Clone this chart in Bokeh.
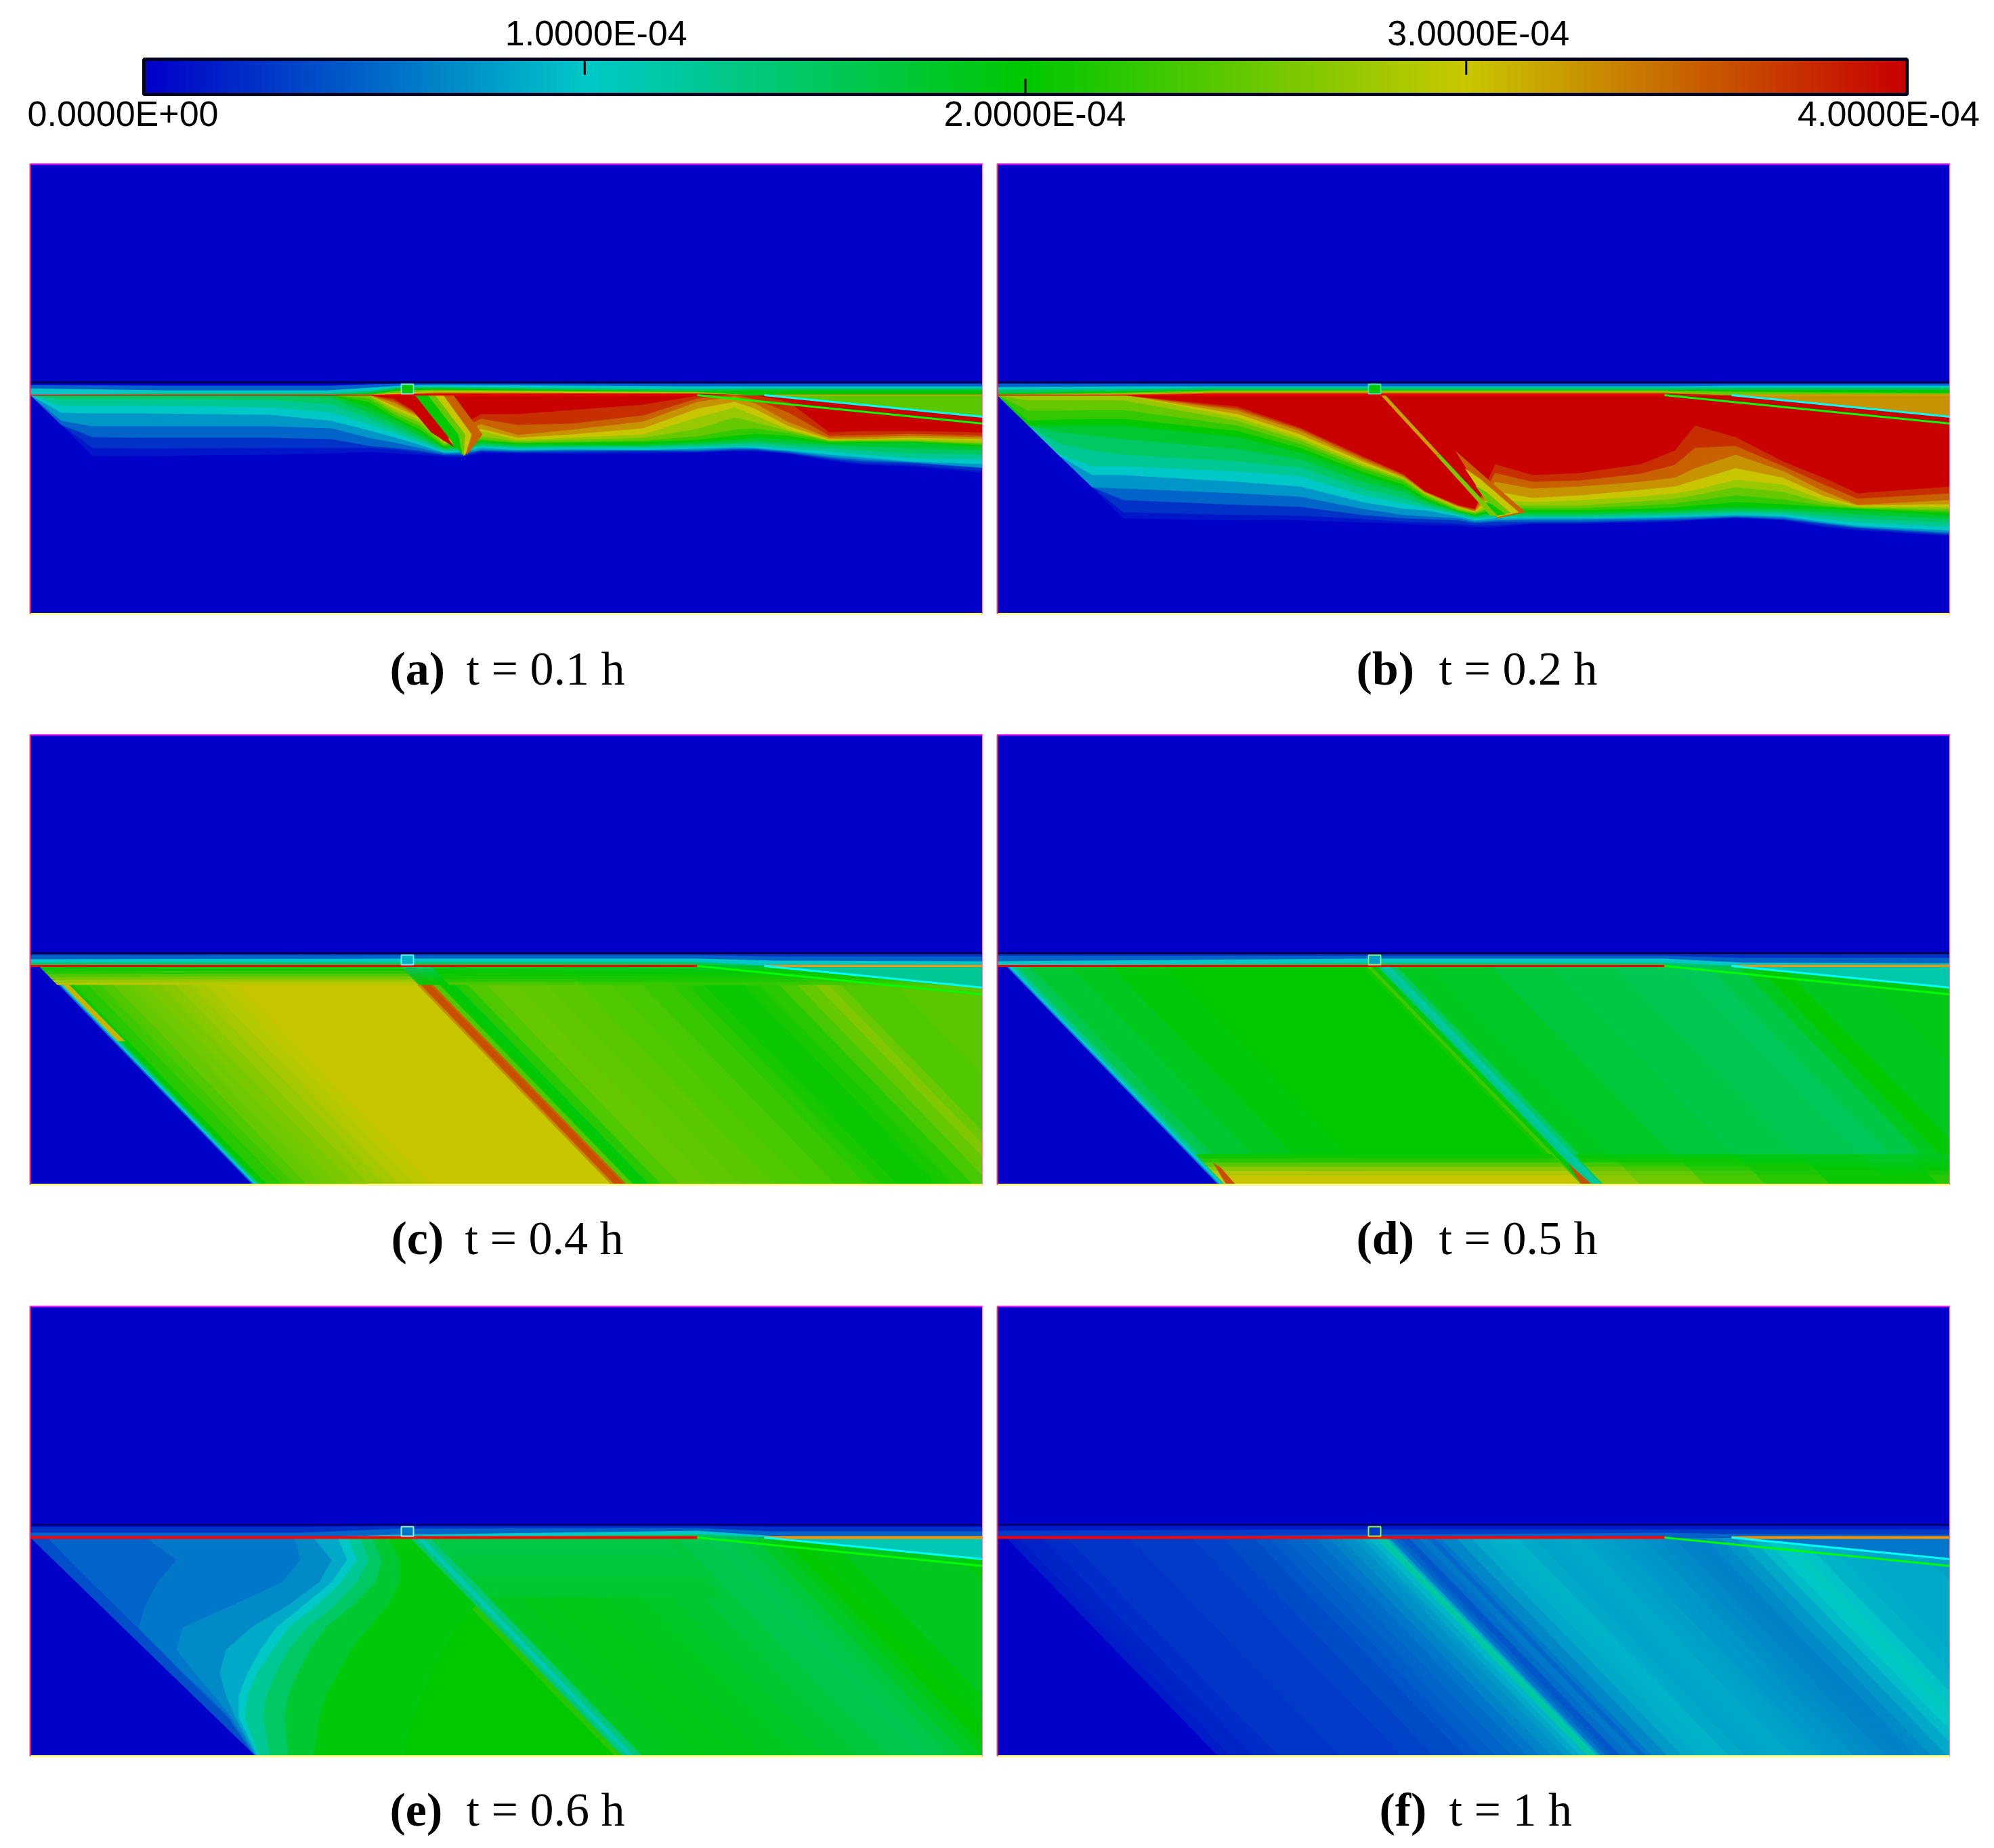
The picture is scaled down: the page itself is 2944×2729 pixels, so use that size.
import numpy as np
from bokeh.core.properties import value
from bokeh.embed import file_html
from bokeh.layouts import column, row
from bokeh.models import LinearColorMapper, Range1d
from bokeh.plotting import figure
from bokeh.resources import INLINE
from bokeh.transform import transform

# ---------- colour scale ----------
scale_low, scale_high = 0.0, 4.0e-4
below_ticks = [0.0, 2.0e-4, 4.0e-4]
above_ticks = [1.0e-4, 3.0e-4]
below_labels = ["0.0000E+00", "2.0000E-04", "4.0000E-04"]
above_labels = ["1.0000E-04", "3.0000E-04"]
UNIT = 1e-4  # all field values below are read in units of 1E-04

# domain of every panel, in model units
DOMAIN_W, DOMAIN_H = 1407, 665
BED_Y, SURFACE_Y = 342, 323
FAULT_A_X, FAULT_B_X = 985, 1084
FAULT_A_END, FAULT_B_END = 384, 374
BOX = (548, 566, 326, 340)
SHEAR = 0.97

band_levels = [.12, .25, .5, .75, 1, 1.25, 1.5, 1.75, 2, 2.25, 2.5, 2.75, 3, 3.25, 3.5, 3.75, 4]

# ---------- (a) t = 0.1 h : depth reached by each level, one list per station ----------
a_x = [0, 46, 92, 170, 354, 445, 500, 537, 574, 611, 638, 666, 720, 800, 905, 985, 1040, 1070, 1120, 1180, 1230, 1300, 1407]
a_depth = [
    [342]*17,
    [386, 386, 386, 380, 368, 358, 348] + [342]*10,
    [432, 420, 404, 388, 369, 358, 348] + [342]*10,
    [432, 421, 405, 388, 369, 358, 348] + [342]*10,
    [430, 420, 405, 388, 371, 360, 349] + [342]*10,
    [428, 420, 407, 391, 380, 368, 356, 346] + [342]*9,
    [426, 420, 417, 405, 394, 385, 376, 368, 360, 352, 347, 343, 342, 342, 342, 342, 342],
    [428, 422, 420, 412, 404, 398, 391, 384, 377, 374, 370, 366, 362, 358, 353, 350, 347],
    [430, 427, 424, 420, 415, 411, 407, 402, 397, 392, 387, 382, 378, 375, 373, 371, 370],
    [433, 431, 430, 428, 427, 425, 423, 421, 420, 418, 416, 414, 412, 411, 410, 410, 409],
    [434, 432, 430, 428, 426, 424, 422, 420, 418, 412, 410, 408, 405, 400, 395, 390, 385],
    [428, 426, 424, 423, 420, 418, 416, 414, 411, 409, 407, 403, 395, 392, 385, 377, 370],
    [428, 427, 426, 424, 423, 421, 419, 417, 415, 413, 412, 410, 408, 405, 401, 386, 370],
    [429, 427, 425, 423, 422, 420, 418, 417, 415, 412, 411, 408, 405, 400, 393, 384, 364],
    [428, 426, 424, 423, 423, 420, 418, 417, 415, 411, 409, 405, 400, 391, 381, 372, 356],
    [427, 426, 425, 423, 421, 419, 416, 414, 411, 408, 403, 392, 375, 362, 352, 347, 343],
    [425, 424, 422, 421, 419, 417, 414, 412, 408, 402, 393, 375, 360, 352, 344, 342, 342],
    [425, 424, 422, 421, 420, 417, 413, 410, 405, 399, 391, 382, 372, 362, 354, 348, 342],
    [429, 428, 427, 425, 424, 421, 417, 413, 407, 402, 398, 395, 393, 388, 382, 368, 352],
    [439, 437, 435, 433, 430, 425, 420, 416, 414, 412, 410, 409, 409, 407, 405, 402, 397],
    [445, 443, 440, 437, 434, 430, 424, 418, 413, 411, 410, 409, 408, 407, 404, 401, 395],
    [447, 445, 442, 441, 440, 435, 428, 420, 412, 411, 410, 409, 407, 405, 402, 399, 395],
    [457, 454, 450, 449, 444, 437, 430, 424, 419, 416, 414, 413, 409, 407, 404, 402, 397],
]
a_strip_x = [0, 200, 440, 500, 548, 600, 985, 1060, 1407]
a_strip_levels = [.5, 1, 1.5, 2, 2.5, 3, 3.5, 4]
a_strip = [
    [327, 332, 342, 342, 342, 342, 342, 342],
    [328, 335, 339, 342, 342, 342, 342, 342],
    [328, 335, 339, 342, 342, 342, 342, 342],
    [326, 331, 336, 339, 341, 342, 342, 342],
    [325, 328, 330, 332, 335, 338, 340, 341],
    [325, 327, 330, 332, 334, 336, 338, 340],
    [325, 329, 333, 336, 337, 338, 339, 340],
    [325, 329, 332, 335, 342, 342, 342, 342],
    [325, 329, 332, 335, 342, 342, 342, 342],
]
a_over_v = [2.45, 3.5, 3.0, 2.5, 2.0, 4.0]
a_over_x = [[1084, 1407, 1407], [590, 625, 668, 645], [580, 610, 652, 642], [572, 598, 642, 640], [568, 587, 632, 638],
            [546, 566, 611, 626, 592]]
a_over_y = [[342, 342, 374], [342, 342, 400, 430], [342, 342, 400, 432], [342, 342, 400, 432], [342, 342, 400, 430],
            [342, 342, 397, 419, 397]]

# ---------- (b) t = 0.2 h ----------
b_x = [0, 46, 92, 140, 186, 355, 447, 539, 600, 631, 680, 705, 735, 790, 860, 950, 1000, 1030, 1090, 1160, 1220, 1270, 1407]
b_depth = [
    [342]*17,
    [387]*9 + [380, 365, 350, 342, 342, 342, 342, 342],
    [432, 432, 432, 432, 432, 430, 414, 397, 387, 378, 365, 350, 342, 342, 342, 342, 342],
    [478, 478, 478, 478, 460, 447, 424, 402, 387, 377, 364, 350, 342, 342, 342, 342, 342],
    [524, 515, 497, 480, 460, 447, 430, 407, 387, 377, 364, 350, 342, 342, 342, 342, 342],
    [527, 519, 504, 487, 470, 455, 440, 422, 404, 395, 387, 380, 375, 370, 365, 362, 359],
    [527, 520, 507, 492, 477, 462, 449, 437, 427, 420, 414, 409, 405, 400, 395, 392, 390],
    [530, 525, 519, 510, 500, 490, 480, 470, 460, 455, 450, 447, 444, 440, 437, 434, 432],
    [532, 529, 524, 519, 510, 502, 494, 485, 479, 474, 470, 467, 465, 464, 462, 460, 459],
    [534, 530, 525, 521, 512, 508, 504, 500, 497, 494, 491, 489, 487, 486, 485, 484, 484],
    [535, 532, 527, 524, 521, 519, 517, 515, 514, 513, 512, 510, 508, 507, 506, 505, 504],
    [537, 534, 531, 529, 527, 525, 523, 521, 520, 519, 517, 516, 515, 514, 513, 511, 510],
    [537, 534, 529, 527, 524, 522, 520, 517, 514, 510, 507, 504, 497, 484, 470, 457, 444],
    [532, 531, 529, 526, 524, 523, 520, 518, 515, 512, 509, 505, 500, 494, 480, 470, 460],
    [532, 531, 529, 526, 524, 523, 520, 518, 515, 512, 509, 505, 497, 490, 477, 468, 457],
    [530, 529, 527, 525, 523, 521, 518, 516, 513, 510, 505, 499, 492, 482, 470, 458, 444],
    [529, 528, 526, 524, 522, 520, 517, 515, 512, 508, 502, 495, 487, 477, 464, 445, 424],
    [527, 526, 525, 523, 521, 519, 516, 513, 510, 505, 498, 490, 482, 468, 450, 420, 387],
    [524, 523, 522, 521, 519, 517, 514, 511, 507, 500, 490, 478, 467, 450, 430, 417, 404],
    [527, 526, 525, 523, 521, 518, 515, 512, 509, 503, 496, 485, 474, 464, 454, 447, 440],
    [537, 535, 532, 531, 529, 525, 520, 515, 510, 507, 505, 501, 497, 491, 484, 474, 464],
    [542, 540, 538, 537, 535, 530, 524, 518, 512, 510, 509, 508, 506, 505, 504, 495, 487],
    [550, 549, 547, 545, 542, 537, 531, 525, 520, 516, 513, 510, 507, 503, 497, 487, 477],
]
b_strip_x = [0, 200, 320, 985, 1084, 1407]
b_strip_levels = [.5, 1, 1.5, 2, 2.5, 3, 3.5, 4]
b_strip = [
    [325, 330, 334, 339, 341, 342, 342, 342],
    [325, 329, 333, 336, 338, 340, 341, 342],
    [325, 329, 331, 334, 335, 337, 338, 340],
    [325, 329, 331, 334, 335, 337, 338, 340],
    [325, 328, 331, 334, 337, 342, 342, 342],
    [325, 328, 331, 334, 339, 342, 342, 342],
]
b_over_v = [3.25, 3.5, 3.0, 2.5, 2.0, 3.2, 2.6]
b_over_x = [[1084, 1407, 1407], [676, 700, 780, 738], [690, 712, 770, 738], [705, 722, 758, 738], [720, 730, 750, 738],
            [566, 573, 654, 647], [647, 654, 738, 728]]
b_over_y = [[342, 342, 374], [424, 445, 515, 524], [450, 465, 515, 522], [475, 485, 516, 520], [500, 503, 518, 520],
            [342, 342, 430, 430], [430, 430, 520, 520]]

# ---------- (c) t = 0.4 h : oblique stripes, position read at the bottom edge ----------
c_p = [328, 331, 335, 340, 350, 372, 390, 409, 432, 455, 478, 501, 524, 546, 570, 592, 858, 863, 877, 881, 891, 905,
       914, 932, 960, 1005, 1051, 1097, 1143, 1190, 1235, 1258, 1281, 1318, 1340, 1364, 1392, 1419, 1446, 1465, 1483,
       1564, 1697]
c_v = [.5, 1.0, 1.5, 2.0, 2.2, 2.3, 2.4, 2.5, 2.55, 2.6, 2.68, 2.75, 2.82, 2.9, 2.95, 3.0, 3.3, 3.6, 3.5, 2.4, 2.0,
       1.95, 2.2, 2.4, 2.5, 2.48, 2.45, 2.4, 2.35, 2.28, 2.2, 2.12, 2.05, 2.05, 2.12, 2.2, 2.35, 2.5, 2.65, 2.52, 2.4,
       2.45, 2.4]
c_cell_p = [326, 860, 905, 1100, 1440, 1760]
c_cell_y = [342, 346, 350, 354, 358, 362, 366, 370]
c_cell = [
    [1.95, 1.5, 1.85, 1.8, 1.8],
    [2.05, 1.6, 1.95, 1.9, 1.9],
    [2.2, 1.7, 2.0, 2.0, 2.0],
    [2.4, 1.8, 2.05, 2.05, 2.05],
    [2.55, 1.9, 2.1, 2.1, 2.1],
    [2.75, 1.95, 2.2, 2.15, 2.2],
    [2.9, 2.0, 2.35, 2.25, 2.3],
]
c_strip_x = [0, 540, 985, 1100, 1407]
c_strip_levels = [.25, .5, 1, 1.5, 2]
c_strip = [
    [324, 326, 332, 337, 341],
    [324, 326, 331, 336, 340],
    [324, 326, 331, 336, 340],
    [324, 328, 334, 342, 342],
    [324, 328, 335, 342, 342],
]
c_over_v = [1.25, 3.1]
c_over_x = [[1084, 1407, 1407], [46, 56, 140, 129]]
c_over_y = [[342, 342, 374], [368, 368, 453, 453]]

# ---------- (d) t = 0.5 h ----------
d_p = [326, 329, 334, 341, 360, 420, 480, 560, 851, 858, 865, 874, 883, 892, 902, 948, 1040, 1131, 1223, 1315,
       1361, 1407, 1434, 1471, 1545, 1580]
d_v = [.6, 1.0, 1.3, 1.6, 1.75, 1.85, 1.95, 2.0, 2.1, 2.3, 1.95, 1.3, 1.2, 1.5, 1.85, 1.8, 1.7, 1.65, 1.6, 1.55,
       1.65, 1.85, 2.0, 1.85, 1.85, 1.9]
d_cell_p = [336, 862, 895, 950, 1045, 1135, 1230, 1320, 1390, 1500]
d_cell_y = [620, 626, 632, 638, 644, 650, 665]
d_cell = [
    [2.05, None, 1.95, 1.95, 1.95, 1.9, 1.9, 1.85, 1.85],
    [2.2, None, 2.1, 2.05, 2.05, 1.95, 1.9, 1.85, 1.9],
    [2.45, None, 2.3, 2.2, 2.1, 2.05, 1.95, 1.9, 1.95],
    [2.7, None, 2.5, 2.35, 2.2, 2.1, 2.0, 1.95, 2.0],
    [2.9, None, 2.65, 2.5, 2.3, 2.15, 2.05, 2.0, 2.1],
    [3.0, None, 2.7, 2.55, 2.35, 2.2, 2.05, 2.05, 2.2],
]
d_strip_x = [0, 540, 985, 1100, 1407]
d_strip_levels = [.25, .5, 1, 1.5]
d_strip = [
    [324, 327, 335, 342],
    [324, 327, 331, 337],
    [324, 327, 331, 337],
    [324, 330, 337, 342],
    [324, 330, 338, 342],
]
d_over_v = [1.15, 3.6, 3.6]
d_over_x = [[1084, 1407, 1407], [318, 330, 352, 338], [842, 850, 878, 862]]
d_over_y = [[342, 342, 374], [632, 640, 665, 665], [632, 640, 665, 665]]

# ---------- (e) t = 0.6 h ----------
e_p = [326, 863, 874, 883, 892, 904, 950, 992, 1040, 1083, 1130, 1175, 1221, 1267, 1313, 1336, 1359, 1382, 1405, 1423,
       1451, 1492, 1656]
e_v = [2.0, 2.2, 1.4, 1.1, 1.4, 1.85, 1.88, 1.9, 1.88, 1.85, 1.8, 1.75, 1.7, 1.62, 1.6, 1.64, 1.7, 1.8, 1.9, 2.0,
       1.95, 1.85, 1.95]
e_cell_p = [905, 1250]
e_cell_y = [342, 370, 400, 430]
e_cell = [[1.65], [1.7], [1.75]]
# right-hand limit of each level at the listed depths
e_left_y = [342, 375, 408, 442, 475, 508, 542, 575, 608, 665]
e_left_levels = [1.95, 1.75, 1.5, 1.25, 1.0, .85, .7, .6, .5, .4]
e_left_x = [
    [560, 592, 624, 658, 629, 611, 592, 578, 565, 551],
    [528, 546, 546, 528, 500, 473, 455, 436, 427, 418],
    [505, 519, 510, 477, 436, 413, 395, 381, 376, 381],
    [487, 500, 482, 450, 409, 381, 363, 349, 344, 354],
    [468, 482, 459, 423, 381, 358, 335, 321, 317, 338],
    [454, 468, 445, 404, 363, 340, 321, 308, 308, 336],
    [418, 445, 427, 381, 326, 289, 280, 289, 303, 334],
    [390, 399, 372, 298, 225, 216, 243, 271, 298, 333],
    [170, 216, 188, 170, 160, 188, 225, 262, 294, 332],
    [25, 57, 90, 125, 158, 192, 225, 258, 292, 331],
]
e_strip_x = [0, 400, 540, 985, 1100, 1407]
e_strip_levels = [.25, .5, 1, 1.5]
e_strip = [
    [326, 335, 342, 342],
    [326, 335, 342, 342],
    [325, 329, 338, 342],
    [325, 328, 332, 337],
    [326, 333, 340, 342],
    [326, 333, 340, 342],
]
e_over_v = [1.1, 0.0]
e_over_x = [[1084, 1407, 1407], [0, 0, 333]]
e_over_y = [[342, 342, 374], [342, 665, 665]]

# ---------- (f) t = 1 h ----------
f_p = [326, 345, 380, 415, 507, 599, 645, 691, 714, 737, 760, 783, 802, 820, 838, 850, 861, 872, 881, 886, 891, 899,
       907, 921, 934, 948, 958, 967, 990, 1012, 1035, 1058, 1081, 1104, 1127, 1150, 1173, 1196, 1219, 1242, 1265, 1288,
       1311, 1334, 1357, 1380, 1403, 1426, 1444, 1462, 1480, 1499, 1530, 1559, 1656]
f_v = [.15, .18, .22, .27, .3, .34, .38, .43, .47, .5, .55, .6, .66, .72, .78, .85, .92, 1.2, 1.15, .85, .6, .5,
       .45, .55, .6, .52, .6, .68, .78, .85, .88, .9, .85, .82, .84, .85, .82, .8, .77, .75, .72, .7,
       .67, .65, .7, .75, .85, .95, 1.0, 1.05, .97, .9, .87, .85, .8]
f_strip_x = [0, 540, 985, 1100, 1407]
f_strip_levels = [.15, .3, .5, .75]
f_strip = [
    [325, 332, 342, 342],
    [325, 330, 338, 342],
    [325, 330, 335, 342],
    [325, 330, 337, 342],
    [325, 330, 338, 342],
]
f_over_v = [0.6]
f_over_x = [[1084, 1407, 1407]]
f_over_y = [[342, 342, 374]]

# ---------- captions ----------
tags = ["(a)", "(b)", "(c)", "(d)", "(e)", "(f)"]
times = ["t = 0.1 h", "t = 0.2 h", "t = 0.4 h", "t = 0.5 h", "t = 0.6 h", "t = 1 h"]
box_values = [2.0, 2.0, 0.9, 0.8, 0.6, 0.3]
box_lines = ["#7fe0d0", "#50d8b0", "#60f0f0", "#80f080", "#a0f0f0", "#a0f040"]


def ramp(steps=256):
    stops = [(0, 0, 200), (0, 200, 200), (0, 200, 0), (200, 200, 0), (200, 0, 0)]
    out = []
    for i in range(steps):
        t = i / (steps - 1) * 4
        k = min(int(t), 3)
        f = t - k
        c = [round(stops[k][j] * (1 - f) + stops[k + 1][j] * f) for j in range(3)]
        out.append("#%02x%02x%02x" % tuple(c))
    return out


palette = ramp()
mapper = LinearColorMapper(palette=palette, low=scale_low, high=scale_high)


def add_poly(out, v, xs, ys):
    """Keep the part of a polygon that lies inside the right edge of the domain."""
    cx, cy = [], []
    n = len(xs)
    for i in range(n):
        x0, y0, x1, y1 = xs[i], ys[i], xs[(i + 1) % n], ys[(i + 1) % n]
        if x0 <= DOMAIN_W:
            cx.append(x0)
            cy.append(y0)
        if (x0 <= DOMAIN_W) != (x1 <= DOMAIN_W):
            t = (DOMAIN_W - x0) / (x1 - x0)
            cx.append(DOMAIN_W)
            cy.append(y0 + t * (y1 - y0))
    if len(cx) >= 3:
        out["v"].append(v * UNIT)
        out["xs"].append(cx)
        out["ys"].append(cy)


def envelope(xs, levels, columns, base, out):
    for k, level in enumerate(levels):
        add_poly(out, level, list(xs) + list(xs)[::-1], [c[k] for c in columns] + [base] * len(xs))


def stripes(ps, vs, out):
    for p_, v in zip(ps, vs):
        add_poly(out, v, [p_ - SHEAR * (DOMAIN_H - BED_Y), 2200, 2200, p_], [BED_Y, BED_Y, DOMAIN_H, DOMAIN_H])


def cells(ps, ys, table, out):
    for i, line in enumerate(table):
        for j, v in enumerate(line):
            if v is None:
                continue
            y0, y1 = ys[i], ys[i + 1]
            add_poly(out, v, [ps[j] - SHEAR * (DOMAIN_H - y0), ps[j + 1] - SHEAR * (DOMAIN_H - y0),
                              ps[j + 1] - SHEAR * (DOMAIN_H - y1), ps[j] - SHEAR * (DOMAIN_H - y1)],
                     [y0, y0, y1, y1])


def left_limits(ys, levels, table, out):
    for level, line in zip(levels, table):
        add_poly(out, level, [0] * len(ys) + list(line)[::-1], list(ys) + list(ys)[::-1])


def overlays(vs, xs, ys, out):
    for v, x_, y_ in zip(vs, xs, ys):
        add_poly(out, v, x_, y_)


def panel(index, fill, pad_left, height, red_width, surface_width, baseline, tag_x, time_x):
    p = figure(width=pad_left + DOMAIN_W, height=height, x_range=Range1d(-pad_left, DOMAIN_W),
               y_range=Range1d(height, 0), x_axis_type=None, y_axis_type=None, toolbar_location=None,
               output_backend="svg", min_border=0, outline_line_color=None,
               background_fill_color="white", border_fill_color="white")
    p.grid.visible = False
    p.patches("xs", "ys", source=fill, fill_color=transform("v", mapper), line_color=None)
    # surface, bed, faults
    p.line([0, DOMAIN_W], [SURFACE_Y, SURFACE_Y], line_color="#000050", line_width=surface_width)
    p.line([0, FAULT_A_X], [BED_Y, BED_Y], line_color="#ff0000", line_width=red_width)
    p.line([FAULT_B_X, DOMAIN_W], [BED_Y, BED_Y], line_color="#ff9000", line_width=red_width)
    p.line([FAULT_A_X, DOMAIN_W], [BED_Y, FAULT_A_END], line_color="#00ff00", line_width=3)
    p.line([FAULT_B_X, DOMAIN_W], [BED_Y, FAULT_B_END], line_color="#00ffff", line_width=3)
    p.quad(left=BOX[0], right=BOX[1], top=BOX[2], bottom=BOX[3],
           fill_color=palette[int(box_values[index] / 4 * 255)], line_color=box_lines[index], line_width=2)
    # frame of the domain
    p.line([0, DOMAIN_W], [0, 0], line_color="#ff00ff", line_width=4)
    p.line([0, DOMAIN_W], [DOMAIN_H, DOMAIN_H], line_color="#ffff80", line_width=3)
    p.line([0, 0], [0, DOMAIN_H], line_color="#ff3080", line_width=2)
    p.line([DOMAIN_W, DOMAIN_W], [0, DOMAIN_H], line_color="#ff80c0", line_width=3)
    p.text(x=[tag_x], y=[baseline - 21], text=[tags[index]], text_font=value("Liberation Serif"),
           text_font_style="bold", text_font_size=value("70px"), text_color="black", text_baseline="alphabetic")
    p.text(x=[time_x], y=[baseline - 21], text=[times[index]], text_font=value("Liberation Serif"),
           text_font_size=value("70px"), text_color="black", text_baseline="alphabetic")
    return p


def new_fill():
    f = {"v": [], "xs": [], "ys": []}
    add_poly(f, 0.0, [0, DOMAIN_W, DOMAIN_W, 0], [0, 0, DOMAIN_H, DOMAIN_H])
    return f


fa = new_fill()
envelope(a_x, band_levels, a_depth, BED_Y, fa)
envelope(a_strip_x, a_strip_levels, a_strip, BED_Y, fa)
overlays(a_over_v, a_over_x, a_over_y, fa)

fb = new_fill()
envelope(b_x, band_levels, b_depth, BED_Y, fb)
envelope(b_strip_x, b_strip_levels, b_strip, BED_Y, fb)
overlays(b_over_v, b_over_x, b_over_y, fb)

fc = new_fill()
stripes(c_p, c_v, fc)
cells(c_cell_p, c_cell_y, c_cell, fc)
envelope(c_strip_x, c_strip_levels, c_strip, BED_Y, fc)
overlays(c_over_v, c_over_x, c_over_y, fc)

fd = new_fill()
stripes(d_p, d_v, fd)
cells(d_cell_p, d_cell_y, d_cell, fd)
envelope(d_strip_x, d_strip_levels, d_strip, BED_Y, fd)
overlays(d_over_v, d_over_x, d_over_y, fd)

fe = new_fill()
stripes(e_p, e_v, fe)
cells(e_cell_p, e_cell_y, e_cell, fe)
left_limits(e_left_y, e_left_levels, e_left_x, fe)
envelope(e_strip_x, e_strip_levels, e_strip, BED_Y, fe)
overlays(e_over_v, e_over_x, e_over_y, fe)

ff = new_fill()
stripes(f_p, f_v, ff)
envelope(f_strip_x, f_strip_levels, f_strip, BED_Y, ff)
overlays(f_over_v, f_over_x, f_over_y, ff)

# ---------- colour bar ----------
CB_W, CB_H = 2936, 241
BAR_LEFT, BAR_RIGHT, BAR_TOP, BAR_BOTTOM = 212, 2815, 87, 139
per_px = (scale_high - scale_low) / (BAR_RIGHT - BAR_LEFT)
bar_px = BAR_BOTTOM - BAR_TOP
cb = figure(width=CB_W, height=CB_H,
            x_range=Range1d(scale_low - BAR_LEFT * per_px, scale_high + (CB_W - BAR_RIGHT) * per_px),
            y_range=Range1d(-(CB_H - BAR_BOTTOM) / bar_px, 1 + BAR_TOP / bar_px),
            x_axis_type=None, y_axis_type=None, toolbar_location=None, output_backend="svg",
            min_border=0, outline_line_color=None, border_fill_color="white")
cb.grid.visible = False
cb.image(image=[np.linspace(scale_low, scale_high, 256).reshape(1, 256)],
         x=scale_low, y=0, dw=scale_high - scale_low, dh=1, color_mapper=mapper)
cb.quad(left=scale_low, right=scale_high, bottom=0, top=1, fill_color=None, line_color="#000020", line_width=5)
cb.segment(x0=above_ticks, x1=above_ticks, y0=[1, 1], y1=[1 - 23 / bar_px] * 2, line_color="black", line_width=3)
cb.segment(x0=below_ticks[1:2], x1=below_ticks[1:2], y0=[0], y1=[23 / bar_px], line_color="black", line_width=3)
cb.text(x=above_ticks, y=[1 + 39 / bar_px] * 2, text=above_labels, x_offset=[17, 18], text_align="center",
        text_baseline="alphabetic", text_font=value("Liberation Sans"), text_font_size=value("52px"), text_color="black")
cb.text(x=below_ticks, y=[-28 / bar_px] * 3, text=below_labels, x_offset=[-31, 14, -27], text_align="center",
        text_baseline="alphabetic", text_font=value("Liberation Sans"), text_font_size=value("52px"), text_color="black")

pa = panel(0, fa, 44, 843, 1.5, 3, 767, 531, 644)
pb = panel(1, fb, 21, 843, 1.5, 3, 767, 530, 652)
pc = panel(2, fc, 44, 844, 3, 3, 765, 533, 642)
pd_ = panel(3, fd, 21, 844, 3, 3, 765, 530, 652)
pe = panel(4, fe, 44, 795, 4, 2, 765, 531, 644)
pf = panel(5, ff, 21, 795, 4, 2, 765, 564, 667)

page = column(cb, row(pa, pb, spacing=0), row(pc, pd_, spacing=0), row(pe, pf, spacing=0), spacing=0)
open("out.html", "w").write(file_html(page, INLINE))
